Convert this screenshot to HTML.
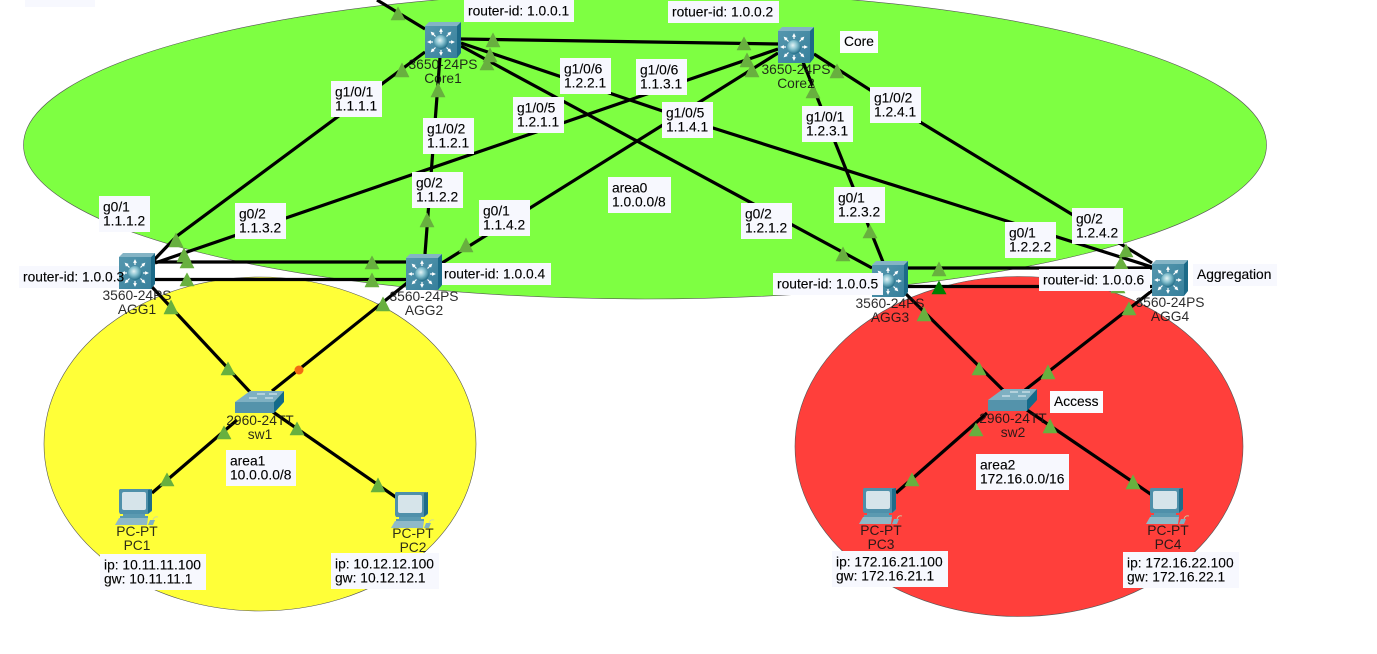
<!DOCTYPE html>
<html><head><meta charset="utf-8"><title>OSPF topology</title>
<style>
html,body{margin:0;padding:0;background:#fff;width:1377px;height:654px;overflow:hidden}
svg{display:block}
text{font-family:"Liberation Sans",sans-serif;font-size:13.8px}
.b rect{fill:#f7f8fe}
.l text{fill:#000;stroke:#000;stroke-width:.12}
.d text{fill:#151515;fill-opacity:.9;text-anchor:middle}
.w{stroke:#000;stroke-width:3.2;fill:none}
.t{fill:#68b03f;stroke:#68b03f;stroke-width:.6;stroke-linejoin:round}
</style></head><body>
<svg width="1377" height="654" viewBox="0 0 1377 654" xmlns="http://www.w3.org/2000/svg">
<defs>
<radialGradient id="sp" cx=".42" cy=".38" r=".65"><stop offset="0" stop-color="#e4f3f5"/><stop offset=".45" stop-color="#86c1cf"/><stop offset="1" stop-color="#1d6a85"/></radialGradient>
<linearGradient id="fr" x1="0" y1="0" x2="1" y2="1"><stop offset="0" stop-color="#5597ae"/><stop offset="1" stop-color="#37809c"/></linearGradient>
<marker id="ah" markerWidth="3.2" markerHeight="3.2" refX="1.6" refY="1.6" orient="auto" markerUnits="strokeWidth"><path d="M0 0L3.2 1.600L0 3.200Z" fill="#fff"/></marker>
<g id="mls">
<path d="M0 4L4 0H36L32 4Z" fill="#84b4c5"/>
<path d="M32 4L36 0V31L32 36Z" fill="#1c6a88"/>
<rect x="0" y="4" width="32" height="32" fill="url(#fr)"/>
<g stroke="#fff" stroke-width="1.2" fill="none" marker-end="url(#ah)">
<path d="M16 12V8" marker-end="url(#ah)"/><path d="M16 28V32" marker-end="url(#ah)"/>
<path d="M8 20H4" marker-end="url(#ah)"/><path d="M24 20H28" marker-end="url(#ah)"/>
<path d="M10.500 14.500L7 11" marker-end="url(#ah)"/><path d="M21.500 14.500L25 11" marker-end="url(#ah)"/>
<path d="M10.500 25.500L7 29" marker-end="url(#ah)"/><path d="M21.500 25.500L25 29" marker-end="url(#ah)"/>
</g>
<circle cx="16" cy="20" r="7" fill="url(#sp)"/>
</g>
<g id="sw">
<path d="M0 12L15 1H49L39 12Z" fill="#7eb0c2"/>
<path d="M39 12L49 1V12L39 23Z" fill="#136a8a"/>
<rect x="0" y="12" width="39" height="11" fill="#5493ab"/>
<path d="M14 8H22M22 4H30M30 8H38M34 4H42" stroke="#e8f2f5" stroke-width="1"/>
</g>
<g id="pc">
<path d="M5 0H35L37 2V22L33 25H5L4 23V1Z" fill="#4f90aa"/>
<path d="M33 1L37 0V21L33 25Z" fill="#1f6c89"/>
<rect x="7" y="3" width="24" height="18" rx="2" fill="#d6e4ea"/>
<path d="M8 25H30V27H8ZM5 27H33V29H5Z" fill="#5b9ab1"/>
<path d="M4 29H33L32 36H0Z" fill="#8fb9c8"/>
<path d="M35 31H40L38 36H33Z" fill="#7fb0c2"/>
<path d="M38 31Q39 27 43 28" stroke="#c9d7a8" fill="none" stroke-width=".8"/>
</g>
</defs>

<ellipse cx="645" cy="145" rx="621.5" ry="154" fill="#7eff42" stroke="#555" stroke-width=".6"/>
<ellipse cx="260" cy="444" rx="216" ry="167" fill="#ffff38" stroke="#555" stroke-width=".6"/>
<ellipse cx="1019" cy="446.500" rx="224" ry="170" fill="#ff3f3b" stroke="#555" stroke-width=".6"/>

<g class="w">
<path d="M377 0L425 29"/>
<path d="M461 39L778 44"/>
<path d="M425 52L177 236L152 262"/>
<path d="M440 57L425 254"/>
<path d="M461 46L872 268"/>
<path d="M461 43L713 128L1152 267"/>
<path d="M778 49L155 263"/>
<path d="M778 53L442 263"/>
<path d="M803 62L883 262"/>
<path d="M814 54L920 122L1152 263"/>
<path d="M155 262H406"/>
<path d="M155 279.500H406"/>
<path d="M908 268H1152"/>
<path d="M908 286.500H1152"/>
<path d="M152 287L250 392"/>
<path d="M407 283L272 391"/>
<path d="M237 420L152 493"/>
<path d="M273 412L397 498"/>
<path d="M905 293L1003 390"/>
<path d="M1153 290L1025 390"/>
<path d="M987 413L896 493"/>
<path d="M1027 410L1152 495"/>
</g>

<g class="t">
<path d="M398 7l7 13h-14z"/><path d="M402 63l7 14h-14z"/><path d="M438 83l7 14h-14z"/>
<path d="M176 233l7 14h-14z"/><path d="M184 248l7 14h-14z"/><path d="M187 255l7 13h-14z"/>
<path d="M372 256l7 13h-14z"/><path d="M187 273l7 13h-14z"/><path d="M372 273l7 14h-14z"/>
<path d="M427 213l7 14h-14z"/><path d="M171 300l7 14h-14z"/><path d="M383 297l7 14h-14z"/>
<path d="M493 33l7 14h-14z"/><path d="M490 48l7 14h-14z"/><path d="M487 57l7 13h-14z"/>
<path d="M744 37l7 13h-14z"/><path d="M747 53l7 14h-14z"/><path d="M752 63l7 14h-14z"/>
<path d="M837 64l7 14h-14z"/><path d="M813 85l7 13h-14z"/><path d="M466 238l7 14h-14z"/>
<path d="M843 247l7 14h-14z"/><path d="M870 225l7 13h-14z"/><path d="M939 262l7 14h-14z"/>
<path d="M1126 244l7 13h-14z"/><path d="M1121 257l7 12h-14z"/><path d="M1118 280l7 13h-14z"/>
<path d="M1129 302l7 13h-14z"/><path d="M924 307l7 14h-14z"/>
<path d="M228 362l7 13h-14z"/><path d="M224 426l7 13h-14z"/><path d="M297 422l7 13h-14z"/>
<path d="M167 473l7 13h-14z"/><path d="M378 478l7 14h-14z"/>
<path d="M979 362l7 13h-14z"/><path d="M1048 365l7 14h-14z"/><path d="M976 423l7 13h-14z"/>
<path d="M1050 419l7 14h-14z"/><path d="M912 473l7 13h-14z"/><path d="M1133 475l7 14h-14z"/>
</g>
<path d="M939 281l7 13h-14z" fill="#007f00" stroke="#007f00" stroke-width=".6"/>
<circle cx="299" cy="370" r="4.500" fill="#f26a13"/>

<g class="b">
<rect x="19" y="266" width="101" height="22"/>
<rect x="25" y="-5" width="70" height="12"/>
</g>

<use href="#mls" x="425" y="22"/><use href="#mls" x="778" y="27"/>
<use href="#mls" x="119" y="253"/><use href="#mls" x="406" y="254"/>
<use href="#mls" x="872" y="261"/><use href="#mls" x="1152" y="260"/>
<use href="#sw" x="235" y="390"/><use href="#sw" x="988" y="388"/>
<use href="#pc" x="115" y="489"/><use href="#pc" x="391" y="492"/>
<use href="#pc" x="859" y="488"/><use href="#pc" x="1146" y="488"/>

<g class="d">
<text x="443" y="69">3650-24PS</text><text x="443" y="83">Core1</text>
<text x="796" y="74">3650-24PS</text><text x="796" y="88">Core2</text>
<text x="137" y="300">3560-24PS</text><text x="137" y="314">AGG1</text>
<text x="424" y="301">3560-24PS</text><text x="424" y="315">AGG2</text>
<text x="890" y="308">3560-24PS</text><text x="890" y="322">AGG3</text>
<text x="1170" y="307">3560-24PS</text><text x="1170" y="321">AGG4</text>
<text x="260" y="425">2960-24TT</text><text x="260" y="439">sw1</text>
<text x="1013" y="423">2960-24TT</text><text x="1013" y="437">sw2</text>
<text x="137" y="536">PC-PT</text><text x="137" y="550">PC1</text>
<text x="413" y="538">PC-PT</text><text x="413" y="552">PC2</text>
<text x="881" y="535">PC-PT</text><text x="881" y="549">PC3</text>
<text x="1168" y="535">PC-PT</text><text x="1168" y="549">PC4</text>
</g>

<g class="b">
<rect x="464" y="0" width="110" height="22"/>
<rect x="668" y="1" width="111" height="22"/>
<rect x="840" y="31" width="38" height="22" style="fill:#fbfcff"/>
<rect x="331" y="81" width="51" height="36"/>
<rect x="423" y="118" width="51" height="36"/>
<rect x="412" y="172" width="51" height="36"/>
<rect x="99" y="196" width="51" height="36"/>
<rect x="235" y="203" width="51" height="36"/>
<rect x="513" y="97" width="51" height="36"/>
<rect x="560" y="58" width="51" height="36"/>
<rect x="636" y="59" width="51" height="36"/>
<rect x="662" y="102" width="51" height="36"/>
<rect x="479" y="200" width="51" height="36"/>
<rect x="608" y="177" width="63" height="36"/>
<rect x="741" y="203" width="51" height="36"/>
<rect x="802" y="106" width="51" height="36"/>
<rect x="834" y="187" width="51" height="36"/>
<rect x="870" y="87" width="51" height="36"/>
<rect x="1005" y="222" width="51" height="36"/>
<rect x="1072" y="208" width="51" height="36"/>
<rect x="442" y="263" width="109" height="22"/>
<rect x="773" y="273" width="110" height="22"/>
<rect x="1039" y="269" width="111" height="22"/>
<rect x="1193" y="264" width="84" height="22"/>
<rect x="1050" y="391" width="53" height="22" style="fill:#fbfcff"/>
<rect x="226" y="450" width="70" height="36"/>
<rect x="976" y="454" width="93" height="36"/>
<rect x="100" y="554" width="106" height="36"/>
<rect x="331" y="553" width="108" height="36"/>
<rect x="832" y="551" width="116" height="36"/>
<rect x="1123" y="552" width="116" height="36"/>
</g>

<g class="l">
<text x="468" y="15.500">router-id: 1.0.0.1</text>
<text x="672" y="16.500">rotuer-id: 1.0.0.2</text>
<text x="844" y="46">Core</text>
<text x="335" y="96.500">g1/0/1</text><text x="335" y="110.500">1.1.1.1</text>
<text x="427" y="133.500">g1/0/2</text><text x="427" y="147.500">1.1.2.1</text>
<text x="416" y="187.500">g0/2</text><text x="416" y="201.500">1.1.2.2</text>
<text x="103" y="211.500">g0/1</text><text x="103" y="225.500">1.1.1.2</text>
<text x="239" y="218.500">g0/2</text><text x="239" y="232.500">1.1.3.2</text>
<text x="517" y="112.500">g1/0/5</text><text x="517" y="126.500">1.2.1.1</text>
<text x="564" y="73.500">g1/0/6</text><text x="564" y="87.500">1.2.2.1</text>
<text x="640" y="74.500">g1/0/6</text><text x="640" y="88.500">1.1.3.1</text>
<text x="666" y="117.500">g1/0/5</text><text x="666" y="131.500">1.1.4.1</text>
<text x="483" y="215.500">g0/1</text><text x="483" y="229.500">1.1.4.2</text>
<text x="612" y="192.500">area0</text><text x="612" y="206.500">1.0.0.0/8</text>
<text x="745" y="218.500">g0/2</text><text x="745" y="232.500">1.2.1.2</text>
<text x="806" y="121.500">g1/0/1</text><text x="806" y="135.500">1.2.3.1</text>
<text x="838" y="202.500">g0/1</text><text x="838" y="216.500">1.2.3.2</text>
<text x="874" y="102.500">g1/0/2</text><text x="874" y="116.500">1.2.4.1</text>
<text x="1009" y="237.500">g0/1</text><text x="1009" y="251.500">1.2.2.2</text>
<text x="1076" y="223.500">g0/2</text><text x="1076" y="237.500">1.2.4.2</text>
<text x="23" y="281.500">router-id: 1.0.0.3</text>
<text x="444" y="278.500">router-id: 1.0.0.4</text>
<text x="777" y="288.500">router-id: 1.0.0.5</text>
<text x="1043" y="284.500">router-id: 1.0.0.6</text>
<text x="1197" y="279">Aggregation</text>
<text x="1054" y="406">Access</text>
<text x="230" y="465.500">area1</text><text x="230" y="479.500">10.0.0.0/8</text>
<text x="980" y="469.500">area2</text><text x="980" y="483.500">172.16.0.0/16</text>
<text x="104" y="569.500">ip: 10.11.11.100</text><text x="104" y="583.500">gw: 10.11.11.1</text>
<text x="335" y="568.500">ip: 10.12.12.100</text><text x="335" y="582.500">gw: 10.12.12.1</text>
<text x="836" y="566.500">ip: 172.16.21.100</text><text x="836" y="580.500">gw: 172.16.21.1</text>
<text x="1127" y="567.500">ip: 172.16.22.100</text><text x="1127" y="581.500">gw: 172.16.22.1</text>
</g>
</svg>
</body></html>
